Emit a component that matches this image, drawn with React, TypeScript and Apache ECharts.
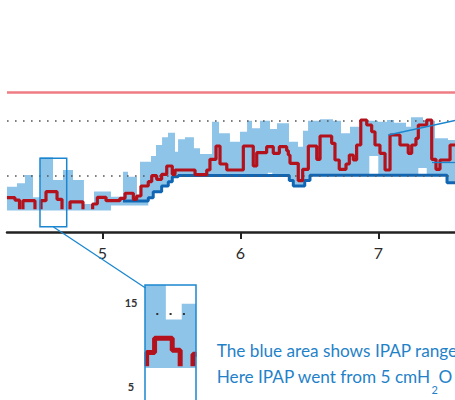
import React, { useEffect, useRef } from "react";
import * as echarts from "echarts";

// ---- axis / reference values ----
const X_MIN = 4.3094;
const X_MAX = 7.5558;
const xTickLabels = [5, 6, 7];
const limitLevel = 25; // pink line
const guideLevels = [10, 20]; // dotted lines
const insetGuideLevels = [10];
const insetTickLabels = ["15", "5"];
const LOW = 4.07;

// light blue IPAP range: upper edge [hour, cmH2O]
const ipapTop: [number, number][] = [
  [4.309, 8.12], [4.382, 8.73], [4.44, 10.22], [4.498, 6.22], [4.549, 13.39],
  [4.643, 9.32], [4.715, 11.11], [4.788, 9.32], [4.867, 5.02], [4.94, 7.26],
  [5.063, 6.33], [5.15, 10.81], [5.186, 9.91], [5.251, 6.63], [5.273, 12.6],
  [5.353, 13.62], [5.389, 15.59], [5.433, 16.97], [5.476, 17.8], [5.527, 14.39],
  [5.549, 16.61], [5.599, 16.97], [5.664, 15.0], [5.708, 13.98], [5.795, 19.77],
  [5.846, 17.69], [5.925, 16.18], [5.998, 17.97], [6.049, 19.95], [6.085, 18.58],
  [6.143, 19.95], [6.215, 18.46], [6.266, 19.48], [6.353, 16.18], [6.418, 15.29],
  [6.454, 18.15], [6.491, 19.95], [6.578, 20.2], [6.672, 19.95], [6.73, 17.69],
  [6.795, 18.87], [6.867, 19.95], [6.998, 19.77], [7.063, 20.07], [7.114, 19.59],
  [7.201, 18.87], [7.237, 20.56], [7.324, 19.95], [7.411, 16.79], [7.505, 16.49],
];
// light blue IPAP range: lower edge
const ipapBottom: [number, number][] = [
  [4.309, 3.85], [5.063, 4.75], [5.333, 6.15], [5.369, 7.22], [5.43, 8.24],
  [5.478, 9.01], [5.507, 9.91], [5.55, 10.13], [6.199, 10.63], [6.232, 10.13],
  [6.355, 9.23], [6.384, 8.24], [6.467, 9.23], [6.505, 10.22], [6.935, 13.62],
  [7.0, 10.22], [7.29, 11.47], [7.351, 10.22], [7.498, 8.84],
];
// dark blue line
const epap: [number, number][] = [
  [5.15, 5.56], [5.333, 6.15], [5.369, 7.22], [5.43, 8.24], [5.478, 9.01],
  [5.507, 9.91], [5.55, 10.13], [6.355, 9.23], [6.384, 8.24], [6.467, 9.23],
  [6.505, 10.18], [7.498, 8.84], [7.556, 8.84],
];
// red line (null = gap)
const pressure: [number, number | null][] = [
  [4.309, 6.15], [4.367, 5.73], [4.4, LOW], [4.4, null],
  [4.425, LOW], [4.425, 5.61], [4.512, LOW], [4.512, null],
  [4.556, LOW], [4.556, 5.61], [4.592, 7.22], [4.672, 5.86], [4.708, LOW], [4.708, null],
  [4.766, LOW], [4.766, 5.4], [4.86, LOW], [4.86, null],
  [4.93, LOW], [4.93, 5.02], [4.964, 6.22], [5.027, 5.61], [5.128, 6.04], [5.165, 6.94],
  [5.225, 5.86], [5.249, 6.45], [5.28, 8.24], [5.333, 9.01], [5.358, 10.09], [5.394, 9.44],
  [5.43, 10.34], [5.467, 11.83], [5.507, 10.34], [5.527, 11.11], [5.672, 10.27], [5.757, 11.11],
  [5.78, 13.03], [5.824, 15.41], [5.853, 12.19], [5.902, 11.11], [6.022, 15.41], [6.094, 11.83],
  [6.119, 14.21], [6.191, 15.29], [6.239, 14.1], [6.283, 15.29], [6.336, 14.57], [6.348, 13.8],
  [6.36, 12.31], [6.42, 9.19], [6.452, 11.24], [6.493, 15.41], [6.554, 13.03], [6.578, 17.2],
  [6.662, 15.9], [6.686, 12.9], [6.717, 11.24], [6.766, 12.19], [6.79, 13.8], [6.819, 12.9],
  [6.843, 15.59], [6.873, 20.07], [6.916, 19.18], [6.952, 17.97], [6.976, 15.59], [7.012, 14.1],
  [7.049, 11.11], [7.085, 17.38], [7.157, 15.59], [7.217, 14.1], [7.242, 15.59], [7.273, 16.79],
  [7.29, 19.18], [7.351, 20.07], [7.387, 13.03], [7.418, 11.24], [7.447, 12.9], [7.52, 15.59],
  [7.556, 15.59],
];

const captionLine1 = "The blue area shows IPAP range";
const captionLine2 = "Here IPAP went from 5 cmH";
const captionSub = "2";
const captionTail = "O";

// inset window
const INSET_X = [4.5486, 4.7797];
const INSET_Y = [0.26, 13.21];

const LIGHT = "#8fc4e9";
const DARK = "#1166b4";
const RED = "#b3121c";
const PINK = "#ef7c85";
const ANNOT = "#1b86cf";
const TEXTBLUE = "#1f82c9";

export default function App() {
  const ref = useRef<HTMLDivElement>(null);
  useEffect(() => {
    const el = ref.current!;
    const chart = echarts.init(el, null, { renderer: "svg" });

    const topData = [...ipapTop, [X_MAX, ipapTop[ipapTop.length - 1][1]]];
    const bottomData = [...ipapBottom, [X_MAX, ipapBottom[ipapBottom.length - 1][1]]];

    const CAP = 17.2;
    const ctx = document.createElement("canvas").getContext("2d")!;
    ctx.font = `${CAP}px Lato`;
    const w2 = ctx.measureText(captionLine2).width;
    ctx.font = `11px Lato`;
    const wSub = ctx.measureText(captionSub).width;
    const capX = 216.7;

    const rangeSeries = (xi: number) => [
      {
        type: "line", xAxisIndex: xi, yAxisIndex: xi, step: "end",
        data: topData, symbol: "none", lineStyle: { width: 0, opacity: 0 },
        areaStyle: { color: LIGHT, opacity: 1, origin: "start" }, z: 1, silent: true,
      },
      {
        type: "line", xAxisIndex: xi, yAxisIndex: xi, step: "end",
        data: bottomData, symbol: "none", lineStyle: { width: 0, opacity: 0 },
        areaStyle: { color: "#ffffff", opacity: 1, origin: "start" }, z: 2, silent: true,
      },
    ];

    const option: any = {
      animation: false,
      grid: [
        { left: 7, right: 0, top: 8.8, bottom: 168 },
        { left: 145, top: 285, width: 51, height: 130, show: false },
      ],
      xAxis: [
        {
          type: "value", gridIndex: 0, min: X_MIN, max: X_MAX, z: 10,
          splitLine: { show: false },
          axisLine: { onZero: true, lineStyle: { color: "#222", width: 2.5 } },
          axisTick: { customValues: xTickLabels, length: 7, lineStyle: { color: "#222", width: 2 } },
          axisLabel: { customValues: xTickLabels, fontSize: 16, color: "#2a2a2a", fontFamily: "Lato", margin: 12 },
        },
        { type: "value", gridIndex: 1, min: INSET_X[0], max: INSET_X[1], show: false },
      ],
      yAxis: [
        { type: "value", gridIndex: 0, min: 0, max: 40, show: false },
        { type: "value", gridIndex: 1, min: INSET_Y[0], max: INSET_Y[1], show: false },
      ],
      series: [
        ...rangeSeries(0),
        {
          type: "line", xAxisIndex: 0, yAxisIndex: 0, data: [[X_MIN, 0]], symbol: "none",
          lineStyle: { opacity: 0 }, z: 3,
          markLine: {
            silent: true, symbol: "none", label: { show: false },
            data: [
              ...guideLevels.map((v) => ({ yAxis: v, lineStyle: { color: "#555", width: 1.6, type: [1.6, 6.4] } })),
              { yAxis: limitLevel, lineStyle: { color: PINK, width: 2.6, type: "solid" } },
            ],
          },
        },
        {
          type: "line", xAxisIndex: 0, yAxisIndex: 0, step: "end", data: epap, symbol: "none",
          lineStyle: { color: DARK, width: 3 }, z: 4,
        },
        {
          type: "line", xAxisIndex: 0, yAxisIndex: 0, step: "end", data: pressure, symbol: "none",
          connectNulls: false, lineStyle: { color: RED, width: 3.2 }, z: 5,
        },
        // inset
        ...rangeSeries(1),
        {
          type: "line", xAxisIndex: 1, yAxisIndex: 1, data: [[INSET_X[0], 0]], symbol: "none",
          lineStyle: { opacity: 0 }, z: 3,
          markLine: {
            silent: true, symbol: "none", label: { show: false },
            data: insetGuideLevels.map((v) => ({ yAxis: v, lineStyle: { color: "#333", width: 2, type: [2, 11.3], dashOffset: 2.3 } })),
          },
        },
        {
          type: "line", xAxisIndex: 1, yAxisIndex: 1, step: "end", data: pressure, symbol: "none",
          connectNulls: false, lineStyle: { color: RED, width: 5 }, z: 5,
        },
      ],
      graphic: [
        // masks keeping the magnified view inside its frame
        { type: "rect", z: 90, silent: true, shape: { x: 196.6, y: 278, width: 19, height: 122 }, style: { fill: "#ffffff" } },
        { type: "rect", z: 90, silent: true, shape: { x: 126, y: 278, width: 18.4, height: 122 }, style: { fill: "#ffffff" } },
        { type: "rect", z: 100, silent: true, shape: { x: 40, y: 158.3, width: 26.7, height: 68.4 }, style: { fill: "none", stroke: ANNOT, lineWidth: 1.5 } },
        { type: "line", z: 100, silent: true, shape: { x1: 53.5, y1: 227, x2: 145.5, y2: 288 }, style: { stroke: ANNOT, lineWidth: 1.3 } },
        { type: "line", z: 100, silent: true, shape: { x1: 388.3, y1: 135, x2: 455, y2: 120.5 }, style: { stroke: ANNOT, lineWidth: 1.3 } },
        { type: "line", z: 100, silent: true, shape: { x1: 432, y1: 162.5, x2: 455, y2: 162.5 }, style: { stroke: ANNOT, lineWidth: 1.3 } },
        { type: "rect", z: 100, silent: true, shape: { x: 145, y: 285, width: 51, height: 130 }, style: { fill: "none", stroke: ANNOT, lineWidth: 1.5 } },
        { type: "text", z: 100, silent: true, x: 131, y: 302, style: { text: insetTickLabels[0], fontSize: 11, fontWeight: "bold", fontFamily: "Lato", fill: "#333", align: "center", verticalAlign: "middle" } },
        { type: "text", z: 100, silent: true, x: 131, y: 386.5, style: { text: insetTickLabels[1], fontSize: 11, fontWeight: "bold", fontFamily: "Lato", fill: "#333", align: "center", verticalAlign: "middle" } },
        { type: "text", z: 100, silent: true, x: capX, y: 350.5, style: { text: captionLine1, fontSize: CAP, fontFamily: "Lato", fill: TEXTBLUE, align: "left", verticalAlign: "middle" } },
        { type: "text", z: 100, silent: true, x: capX, y: 376.5, style: { text: captionLine2, fontSize: CAP, fontFamily: "Lato", fill: TEXTBLUE, align: "left", verticalAlign: "middle" } },
        { type: "text", z: 100, silent: true, x: capX + w2 + 0.5, y: 389.5, style: { text: captionSub, fontSize: 11, fontFamily: "Lato", fill: TEXTBLUE, align: "left", verticalAlign: "middle" } },
        { type: "text", z: 100, silent: true, x: capX + w2 + wSub + 1, y: 376.5, style: { text: captionTail, fontSize: CAP, fontFamily: "Lato", fill: TEXTBLUE, align: "left", verticalAlign: "middle" } },
      ],
    };
    chart.setOption(option);
    return () => chart.dispose();
  }, []);
  return <div ref={ref} style={{ position: "absolute", left: 0, top: 0, width: 455, height: 400 }} />;
}
